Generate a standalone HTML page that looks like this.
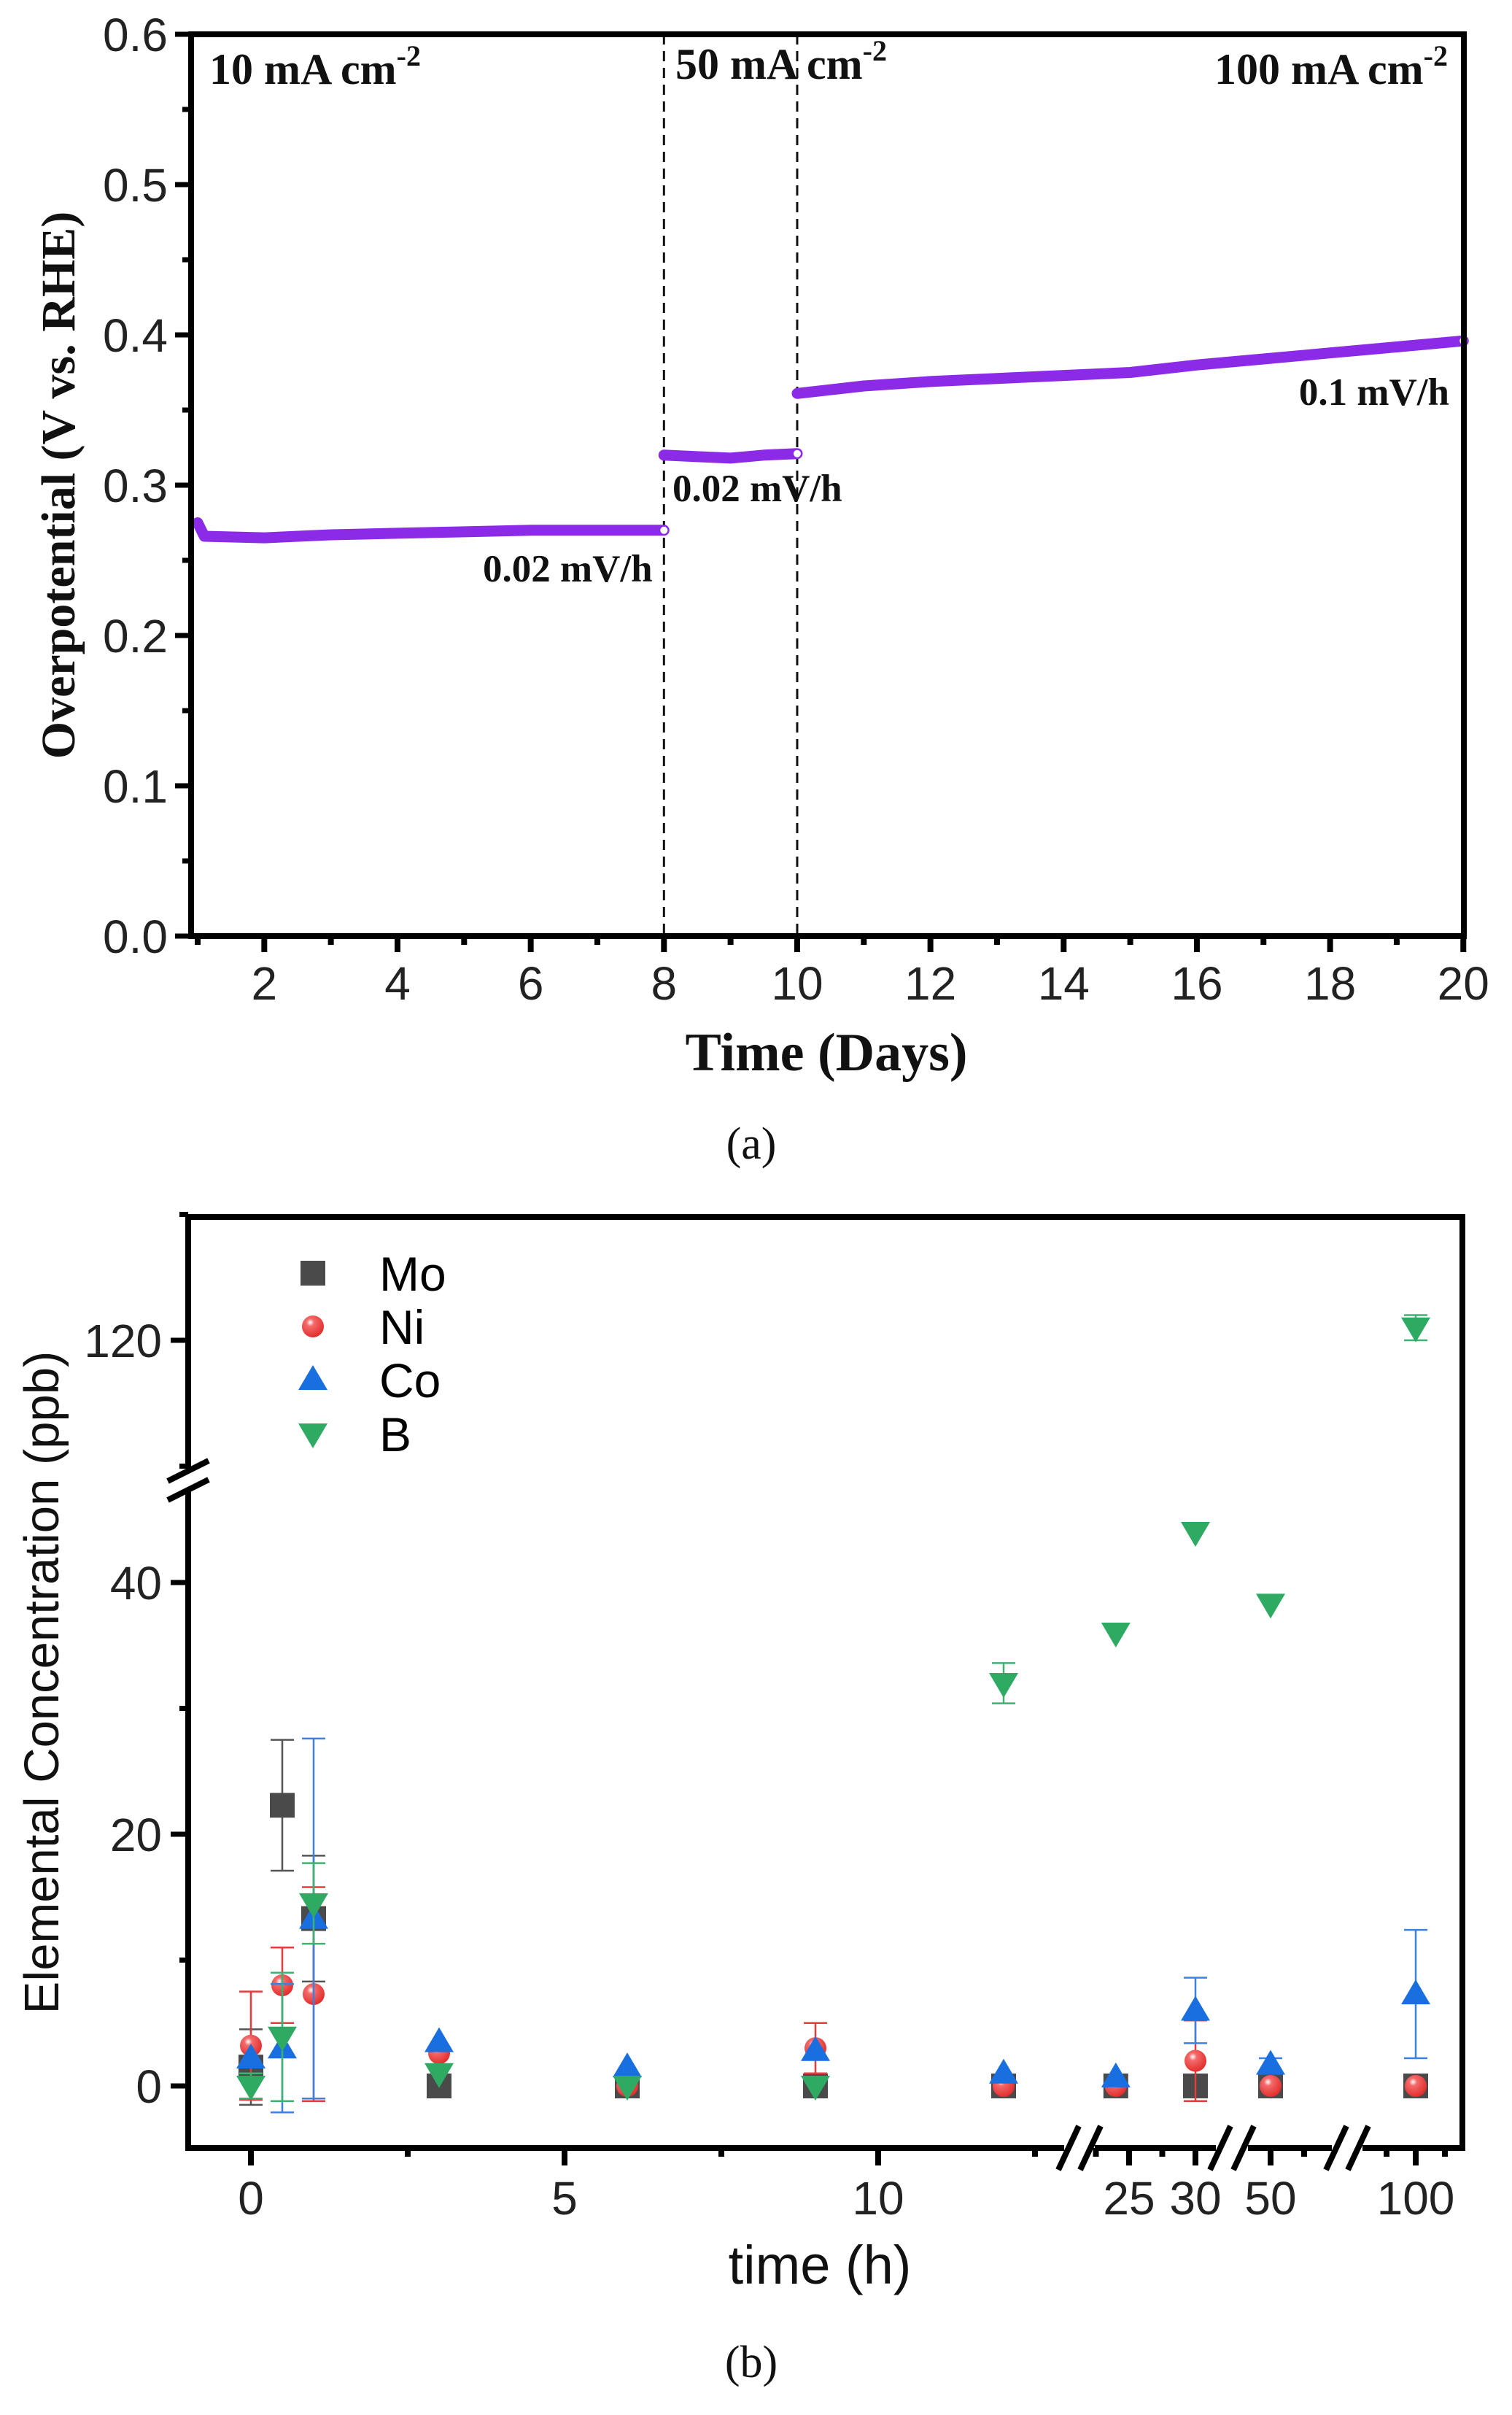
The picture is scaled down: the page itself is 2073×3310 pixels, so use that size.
<!DOCTYPE html>
<html><head><meta charset="utf-8"><style>
html,body{margin:0;padding:0;background:#fff}
svg{display:block}
.tk{font-family:"Liberation Sans",sans-serif;font-size:64px;fill:#222}
.ser{font-family:"Liberation Serif",serif;font-weight:bold;fill:#111}
</style></head><body>
<svg id="svg" width="2073" height="3310" viewBox="0 0 2073 3310" xmlns="http://www.w3.org/2000/svg">
<g id="pa"></g>
<g id="pb"></g>
</svg>
<script>
// ---------- Panel (a) data ----------
const aDays1=[1.0,1.1,2,3,4,5,6,7,8];
const aVals1=[0.275,0.266,0.265,0.267,0.268,0.269,0.270,0.270,0.270];
const aDays2=[8.0,8.5,9,9.5,10];
const aVals2=[0.320,0.319,0.318,0.320,0.321];
const aDays3=[10,11,12,13,14,15,16,17,18,19,20];
const aVals3=[0.361,0.366,0.369,0.371,0.373,0.375,0.380,0.384,0.388,0.392,0.396];
const aXTicks=[2,4,6,8,10,12,14,16,18,20];
const aYTicks=[0.0,0.1,0.2,0.3,0.4,0.5,0.6];
const aYLabels=["0.0","0.1","0.2","0.3","0.4","0.5","0.6"];
const aDividers=[8,10];

// ---------- Panel (b) data ----------
const bTimes=[0,0.5,1,3,6,9,12,24,30,50,100];
const moVals=[1.5,22.3,13.3,0,0,0,0,0,0,0,0];
const moErr=[3,5.2,5,0,0,0,0,0,0,0,0];
const niVals=[3.2,8,7.3,2.6,0,3,0,0,2,0,0];
const niErr=[4.3,3,8.5,0,0,2,0,0,3.2,0,0];
const coVals=[2.2,3,13.3,3.5,1.5,2.8,1,0.7,6,1.7,7.3];
const coErr=[0,5.1,14.3,0,0,0,0,0,2.6,0.5,5.1];
const bVals=[0,3.9,14.5,1,0,0,32,36,44,38.3,121];
const bErr=[1,5.1,3.2,0,0,0,1.6,0,0,0,1];
const bXTickVals=[0,5,10,25,30,50,100];
const bXTickLabels=["0","5","10","25","30","50","100"];
const bYTickVals=[0,20,40,120];
const bYTickLabels=["0","20","40","120"];

const NS="http://www.w3.org/2000/svg";
function mk(parent,tag,attrs){const e=document.createElementNS(NS,tag);for(const k in attrs)e.setAttribute(k,attrs[k]);parent.appendChild(e);return e;}

// ===== Panel A =====
const pa=document.getElementById('pa');
const aL=262,aR=2007,aT=47,aB=1283;
const ax=d=>271+(d-1)*91.33;
const ay=v=>aB-v*(aB-aT)/0.6;
function lineSeries(days,vals,name){
  let d='';days.forEach((x,i)=>{d+=(i?'L':'M')+ax(x).toFixed(1)+' '+ay(vals[i]).toFixed(1)});
  const p=mk(pa,'path',{d:d,fill:'none',stroke:'#8b2be8','stroke-width':15,'stroke-linecap':'round','stroke-linejoin':'round'});
  
  
  const e=mk(pa,'circle',{cx:ax(days[days.length-1]),cy:ay(vals[vals.length-1]),r:5,fill:'#fff'});
  
  
}
aDividers.forEach(v=>{const l=mk(pa,'line',{x1:ax(v),x2:ax(v),y1:aT,y2:aB,stroke:'#111','stroke-width':3,'stroke-dasharray':'14 9'});

});
lineSeries(aDays1,aVals1,'series-10mA');
lineSeries(aDays2,aVals2,'series-50mA');
lineSeries(aDays3,aVals3,'series-100mA');
const fa=mk(pa,'rect',{x:aL,y:aT,width:aR-aL,height:aB-aT,fill:'none',stroke:'#000','stroke-width':8});


for(let d=1;d<=20;d++){const maj=d%2===0;mk(pa,'line',{x1:ax(d),x2:ax(d),y1:aB,y2:aB+(maj?22:12),stroke:'#000','stroke-width':8});}
aXTicks.forEach(v=>{const t=mk(pa,'text',{x:ax(v),y:1370,'text-anchor':'middle',class:'tk'});t.textContent=v;

});
for(let i=0;i<=12;i++){const v=i*0.05;const maj=i%2===0;mk(pa,'line',{x1:aL,x2:aL-(maj?22:12),y1:ay(v),y2:ay(v),stroke:'#000','stroke-width':7});}
aYTicks.forEach((v,i)=>{const t=mk(pa,'text',{x:230,y:ay(v)+23,'text-anchor':'end',class:'tk'});t.textContent=aYLabels[i];

});
function txt(par,x,y,s,cls,extra,name){const t=mk(par,'text',Object.assign({x:x,y:y,class:cls},extra||{}));t.innerHTML=s;

return t;}
txt(pa,287,115,'10 mA cm<tspan dy="-25" font-size="40">-2</tspan>','ser',{'font-size':60},'label-10mA');
txt(pa,926,108,'50 mA cm<tspan dy="-25" font-size="40">-2</tspan>','ser',{'font-size':60},'label-50mA');
txt(pa,1985,115,'100 mA cm<tspan dy="-25" font-size="40">-2</tspan>','ser',{'font-size':60,'text-anchor':'end'},'label-100mA');
txt(pa,662,797,'0.02 mV/h','ser',{'font-size':53},'rate-label-1');
txt(pa,922,687,'0.02 mV/h','ser',{'font-size':53},'rate-label-2');
txt(pa,1987,555,'0.1 mV/h','ser',{'font-size':53,'text-anchor':'end'},'rate-label-3');
txt(pa,1133,1467,'Time (Days)','ser',{'font-size':74,'text-anchor':'middle'},'x-axis-title');
txt(pa,0,0,'Overpotential (V vs. RHE)','ser',{'font-size':66,'text-anchor':'middle',transform:'translate(102,665) rotate(-90)'},'y-axis-title');
const la=txt(pa,1030,1588,'(a)','ser',{'font-size':62,'text-anchor':'middle'},'panel-label-a');la.style.fontWeight='normal';

// ===== Panel B =====
const pb=document.getElementById('pb');
const bL=258,bR=2005,bT=1668,bB=2944;
function bx(t){
  if(t<=13) return 344+t*86;
  if(t<=35) return 1548+(t-25)*18.2;
  if(t<=70) return 1742+(t-50)*4.6;
  return 1941+(t-100)*4;
}
function by(v){
  if(v<=60) return 2859-v*17.25;
  return 1837-(v-120)*17.25;
}
const frame=mk(pb,'path',{d:`M${bL} 2012 L${bL} ${bT} L${bR} ${bT} L${bR} ${bB} L${bL} ${bB} L${bL} 2044`,fill:'none',stroke:'#000','stroke-width':8});


[2016,2042].forEach(y=>{const l=mk(pb,'line',{x1:bL-28,x2:bL+28,y1:y+14,y2:y-14,stroke:'#000','stroke-width':8});

});
[[1465,1495],[1673,1705],[1832,1862]].forEach(p=>{
  mk(pb,'rect',{x:p[0]-6,y:bB-8,width:p[1]-p[0]+12,height:16,fill:'#fff'});
  p.forEach(x=>{const l=mk(pb,'line',{x1:x-14,x2:x+14,y1:bB+30,y2:bB-30,stroke:'#000','stroke-width':8});
  
  });
});
[0,2.5,5,7.5,10,12.5].forEach(v=>mk(pb,'line',{x1:bx(v),x2:bx(v),y1:bB,y2:bB+(v%5===0?24:12),stroke:'#000','stroke-width':8}));
[22.5,25,27.5,30,50,60,90,100,110].forEach(v=>mk(pb,'line',{x1:bx(v),x2:bx(v),y1:bB,y2:bB+([25,30,50,100].includes(v)?24:12),stroke:'#000','stroke-width':8}));
bXTickVals.forEach((v,i)=>{const t=mk(pb,'text',{x:bx(v),y:3035,'text-anchor':'middle',class:'tk'});t.textContent=bXTickLabels[i];

});
[0,10,20,30,40,110,120,130].forEach(v=>mk(pb,'line',{x1:bL,x2:bL-([0,20,40,120].includes(v)?24:12),y1:by(v),y2:by(v),stroke:'#000','stroke-width':7}));
bYTickVals.forEach((v,i)=>{const t=mk(pb,'text',{x:222,y:by(v)+23,'text-anchor':'end',class:'tk'});t.textContent=bYTickLabels[i];

});
const defs=mk(document.getElementById('svg'),'defs',{});
defs.innerHTML='<radialGradient id="ball" cx="0.38" cy="0.32" r="0.7"><stop offset="0" stop-color="#fff"/><stop offset="0.25" stop-color="#f46a6a"/><stop offset="1" stop-color="#e22c2c"/></radialGradient>';
function marker(par,type,x,y){
  let e;
  if(type==='sq') e=mk(par,'rect',{x:x-17,y:y-17,width:34,height:34,fill:'#4a4a4a'});
  else if(type==='ci') e=mk(par,'circle',{cx:x,cy:y,r:15,fill:'url(#ball)'});
  else if(type==='up') e=mk(par,'path',{d:`M${x} ${y-20} L${x+20} ${y+14} L${x-20} ${y+14}Z`,fill:'#1a6fe0'});
  else e=mk(par,'path',{d:`M${x} ${y+20} L${x+20} ${y-14} L${x-20} ${y-14}Z`,fill:'#2faa62'});
  return e;
}
function series(vals,errs,type,color,name){
  const g=mk(pb,'g',{});
  
  
  bTimes.forEach((t,i)=>{
    const x=bx(t),y=by(vals[i]);
    if(errs[i]>0){const y1=by(vals[i]+errs[i]),y2=by(vals[i]-errs[i]);
      mk(g,'line',{x1:x,x2:x,y1:y1,y2:y2,stroke:color,'stroke-width':2.5});
      mk(g,'line',{x1:x-16,x2:x+16,y1:y1,y2:y1,stroke:color,'stroke-width':2.5});
      mk(g,'line',{x1:x-16,x2:x+16,y1:y2,y2:y2,stroke:color,'stroke-width':2.5});}
    const m=marker(g,type,x,y);
    
    
  });
}
series(moVals,moErr,'sq','#555','series-mo');
series(niVals,niErr,'ci','#e63b3b','series-ni');
series(coVals,coErr,'up','#3b82e0','series-co');
series(bVals,bErr,'dn','#3cb371','series-b');
const leg=mk(pb,'g',{});


[['sq','Mo',1745],['ci','Ni',1818],['up','Co',1891],['dn','B',1965]].forEach(r=>{
  const m=marker(leg,r[0],429,r[2]);
  
  
  const t=mk(leg,'text',{x:520,y:r[2]+24,class:'tk'});t.textContent=r[1];t.style.fontSize='66px';t.style.fill='#000';
  
  
});
const xt=mk(pb,'text',{x:1124,y:3130,'text-anchor':'middle',class:'tk'});xt.textContent='time (h)';xt.style.fontSize='74px';xt.style.fill='#111';


const yt=mk(pb,'text',{x:0,y:0,'text-anchor':'middle',class:'tk',transform:'translate(80,2306) rotate(-90)'});yt.textContent='Elemental Concentration (ppb)';yt.style.fontSize='67px';yt.style.fill='#111';


const lb=txt(pb,1030,3258,'(b)','ser',{'font-size':62,'text-anchor':'middle'},'panel-label-b');lb.style.fontWeight='normal';
</script>
</body></html>
